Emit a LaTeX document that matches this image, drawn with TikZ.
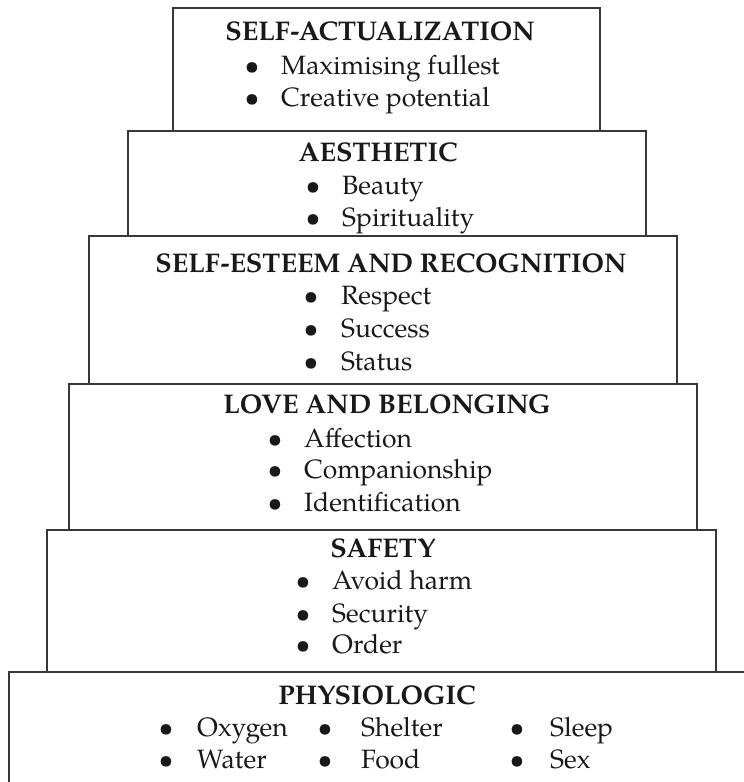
\documentclass[tikz,border=0pt]{standalone}
\usepackage{fontspec}
\setmainfont{TeX Gyre Pagella}
\begin{document}
\begin{tikzpicture}[x=1pt,y=-1pt,
  tier/.style={draw=black!78, line width=1.7pt, fill=none, rectangle, inner sep=0pt, anchor=north west},
  ttl/.style={anchor=base, inner sep=0pt, text=black!90, font=\bfseries\fontsize{27}{32}\selectfont},
  itm/.style={anchor=base west, inner sep=0pt, text=black!90, font=\fontsize{26.5}{32}\selectfont},
  bul/.style={anchor=base, inner sep=0pt, text=black!90, font=\fontsize{26.5}{32}\selectfont}]
\useasboundingbox (0,0) rectangle (744,782);
% tiers
\node[tier, minimum width=427pt, minimum height=123pt] (b1) at (172,7) {};
\node[tier, minimum width=518pt, minimum height=105pt] (b2) at (127,130) {};
\node[tier, minimum width=588pt, minimum height=148pt] (b3) at (88,235) {};
\node[tier, minimum width=628pt, minimum height=146pt] (b4) at (68,383) {};
\node[tier, minimum width=669pt, minimum height=142pt] (b5) at (46,529) {};
\node[tier, minimum width=760pt, minimum height=140pt] (b6) at (8,671) {};
% box 1
\node[ttl] (t1) at (380,40) {SELF-ACTUALIZATION};
\node[bul] (d11) at (252,74) {\textbullet};
\node[itm] (i11) at (281,74) {Maximising fullest};
\node[bul] (d12) at (252,106) {\textbullet};
\node[itm] (i12) at (281,106) {Creative potential};
% box 2
\node[ttl] (t2) at (378,161) {AESTHETIC};
\node[bul] (d21) at (313,194) {\textbullet};
\node[itm] (i21) at (342,194) {Beauty};
\node[bul] (d22) at (313,226) {\textbullet};
\node[itm] (i22) at (342,226) {Spirituality};
% box 3
\node[ttl] (t3) at (391,272) {SELF-ESTEEM AND RECOGNITION};
\node[bul] (d31) at (311,304) {\textbullet};
\node[itm] (i31) at (341,304) {Respect};
\node[bul] (d32) at (311,337) {\textbullet};
\node[itm] (i32) at (341,337) {Success};
\node[bul] (d33) at (311,370) {\textbullet};
\node[itm] (i33) at (341,370) {Status};
% box 4
\node[ttl] (t4) at (387,413) {LOVE AND BELONGING};
\node[bul] (d41) at (275,447) {\textbullet};
\node[itm] (i41) at (304,447) {Affection};
\node[bul] (d42) at (275,478) {\textbullet};
\node[itm] (i42) at (304,478) {Companionship};
\node[bul] (d43) at (275,511) {\textbullet};
\node[itm] (i43) at (304,511) {Identification};
% box 5
\node[ttl] (t5) at (383,557) {SAFETY};
\node[bul] (d51) at (303,589) {\textbullet};
\node[itm] (i51) at (332,589) {Avoid harm};
\node[bul] (d52) at (303,622) {\textbullet};
\node[itm] (i52) at (332,622) {Security};
\node[bul] (d53) at (303,653) {\textbullet};
\node[itm] (i53) at (332,653) {Order};
% box 6
\node[ttl] (t6) at (377,704) {PHYSIOLOGIC};
\node[bul] (d61) at (166,736) {\textbullet};
\node[itm] (i61) at (197,736) {Oxygen};
\node[bul] (d62) at (325,736) {\textbullet};
\node[itm] (i62) at (361,736) {Shelter};
\node[bul] (d63) at (517,736) {\textbullet};
\node[itm] (i63) at (550,736) {Sleep};
\node[bul] (d64) at (166,768) {\textbullet};
\node[itm] (i64) at (197,768) {Water};
\node[bul] (d65) at (325,768) {\textbullet};
\node[itm] (i65) at (361,768) {Food};
\node[bul] (d66) at (517,768) {\textbullet};
\node[itm] (i66) at (550,768) {Sex};
\end{tikzpicture}
\end{document}
